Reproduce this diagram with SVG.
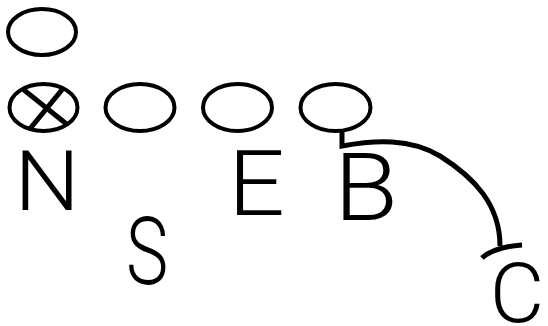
<svg xmlns="http://www.w3.org/2000/svg" width="548" height="326" viewBox="0 0 548 326">
  <defs>
    <style>
      .oval { fill: none; stroke: #000; stroke-width: 4; }
      .line { fill: none; stroke: #000; stroke-width: 5; stroke-linecap: butt; }
      .lbl { font-family: Roboto, "Liberation Sans", sans-serif; font-weight: 300; fill: #000; text-anchor: middle; }
    </style>
    <clipPath id="xclip">
      <ellipse cx="43.5" cy="107.5" rx="34" ry="24"/>
    </clipPath>
  </defs>
  <rect width="548" height="326" fill="#fff"/>
  <g id="top">
    <ellipse class="oval" cx="42" cy="32" rx="34" ry="23"/>
  </g>
  <g id="x-player">
    <ellipse class="oval" cx="43.5" cy="107.5" rx="34" ry="23.5"/>
    <g clip-path="url(#xclip)">
      <line class="line" x1="14" y1="82" x2="74" y2="130" stroke-width="6"/>
      <line class="line" x1="70" y1="80" x2="24" y2="136" stroke-width="6"/>
    </g>
  </g>
  <g id="o2">
    <ellipse class="oval" cx="140" cy="107.5" rx="34.5" ry="23.5"/>
  </g>
  <g id="o3">
    <ellipse class="oval" cx="237.5" cy="107.5" rx="34.5" ry="23.5"/>
  </g>
  <g id="o4">
    <ellipse class="oval" cx="335.5" cy="107.5" rx="35" ry="23.5"/>
  </g>
  <g id="connectors">
    <path class="line" d="M342,131 V146 C375,140 410,138 440,156 C475,178 500,205 500,246"/>
    <path class="line" d="M482,258 Q494,247 522,245"/>
  </g>
  <g id="N"><text class="lbl" font-size="84" transform="translate(47,210) scale(1.1,1)">N</text></g>
  <g id="S"><text class="lbl" font-size="95" transform="translate(147,284) scale(0.75,1)">S</text></g>
  <g id="E"><text class="lbl" font-size="91" transform="translate(256.5,215) scale(1.1,1)">E</text></g>
  <g id="B"><text class="lbl" font-size="95" transform="translate(366,220) scale(1.1,1)">B</text></g>
  <g id="C"><text class="lbl" font-size="84" transform="translate(517,322) scale(1,1)">C</text></g>
</svg>
